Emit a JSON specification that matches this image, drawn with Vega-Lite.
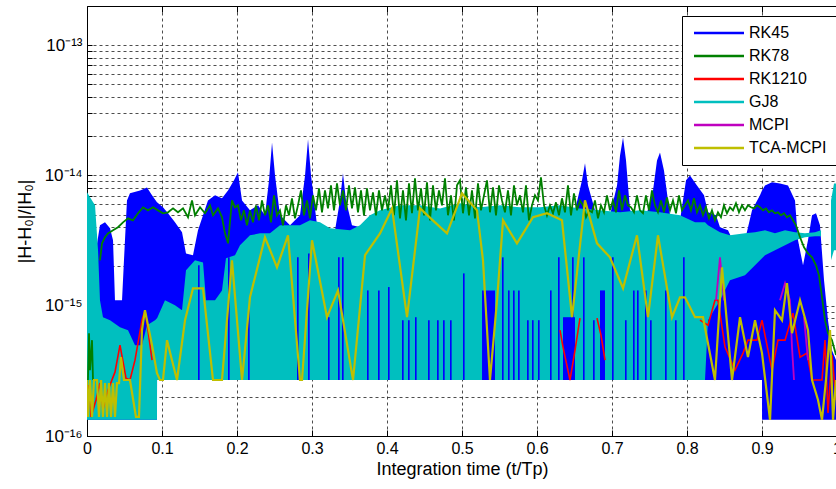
{
"$schema":"https://vega.github.io/schema/vega-lite/v6.json",
"width":750,"height":430,
"autosize":{"type":"none"},
"padding":{"left":87,"top":6,"right":0,"bottom":53},
"background":"white",
"resolve":{"axis":{"x":"independent"}},
"config":{
 "view":{"stroke":"#000","strokeWidth":1},
 "font":"Liberation Sans, Arial, sans-serif",
 "axis":{"labelFont":"Liberation Sans, Arial, sans-serif","titleFont":"Liberation Sans, Arial, sans-serif","labelColor":"#000","titleColor":"#000","titleFontWeight":"normal","domainColor":"#000","tickColor":"#000","gridColor":"#000","gridOpacity":1,"gridDash":[3,3],"gridWidth":0.7,"labelOverlap":false,"labelFlush":false,"labelBound":false}
},
"datasets":{
"rk45":[
{"t":0,"hi":1.06e-15,"lo":1.33e-16},{"t":0.008,"hi":1.06e-15,"lo":1.33e-16},{"t":0.012,"hi":2.66e-15,"lo":1.33e-16},{"t":0.0173,"hi":4.14e-15,"lo":1.33e-16},{"t":0.024,"hi":4.36e-15,"lo":1.33e-16},{"t":0.0307,"hi":3.93e-15,"lo":1.33e-16},{"t":0.0347,"hi":3.18e-15,"lo":1.33e-16},{"t":0.0373,"hi":1.1e-15,"lo":1.33e-16},{"t":0.0467,"hi":1.1e-15,"lo":1.33e-16},{"t":0.0493,"hi":2.23e-15,"lo":1.33e-16},{"t":0.0533,"hi":6.43e-15,"lo":1.33e-16},{"t":0.0573,"hi":7.28e-15,"lo":1.33e-16},{"t":0.0707,"hi":7.67e-15,"lo":1.33e-16},{"t":0.08,"hi":8.09e-15,"lo":1.33e-16},{"t":0.0867,"hi":7.03e-15,"lo":1.33e-16},{"t":0.0933,"hi":6.21e-15,"lo":1.33e-16},
{"t":0.0934,"hi":6.21e-15,"lo":2.69e-16},{"t":0.1013,"hi":5.69e-15,"lo":2.69e-16},{"t":0.108,"hi":5.12e-15,"lo":2.69e-16},{"t":0.1173,"hi":4.36e-15,"lo":2.69e-16},{"t":0.1267,"hi":3.66e-15,"lo":2.69e-16},{"t":0.132,"hi":2.52e-15,"lo":2.69e-16},{"t":0.1413,"hi":2.44e-15,"lo":2.69e-16},{"t":0.148,"hi":3.79e-15,"lo":2.69e-16},{"t":0.1547,"hi":4.94e-15,"lo":2.69e-16},{"t":0.1613,"hi":6.43e-15,"lo":2.69e-16},{"t":0.1707,"hi":7.03e-15,"lo":2.69e-16},{"t":0.18,"hi":6.67e-15,"lo":2.69e-16},{"t":0.188,"hi":7.67e-15,"lo":2.69e-16},{"t":0.196,"hi":9.16e-15,"lo":2.69e-16},{"t":0.2013,"hi":1.055e-14,"lo":2.69e-16},{"t":0.2067,"hi":6.43e-15,"lo":2.69e-16},{"t":0.2173,"hi":5.39e-15,"lo":2.69e-16},{"t":0.228,"hi":5.89e-15,"lo":2.69e-16},{"t":0.2373,"hi":4.94e-15,"lo":2.69e-16},{"t":0.2427,"hi":9.16e-15,"lo":2.69e-16},{"t":0.2467,"hi":1.79e-14,"lo":2.69e-16},{"t":0.2507,"hi":1e-14,"lo":2.69e-16},{"t":0.2573,"hi":4.94e-15,"lo":2.69e-16},{"t":0.2707,"hi":4.14e-15,"lo":2.69e-16},{"t":0.284,"hi":4.94e-15,"lo":2.69e-16},{"t":0.2907,"hi":1e-14,"lo":2.69e-16},{"t":0.2947,"hi":1.89e-14,"lo":2.69e-16},{"t":0.2987,"hi":1e-14,"lo":2.69e-16},{"t":0.3067,"hi":4.14e-15,"lo":2.69e-16},{"t":0.3173,"hi":3.47e-15,"lo":2.69e-16},{"t":0.3307,"hi":3.79e-15,"lo":2.69e-16},{"t":0.3373,"hi":6.43e-15,"lo":2.69e-16},{"t":0.3413,"hi":1.04e-14,"lo":2.69e-16},{"t":0.3453,"hi":6.43e-15,"lo":2.69e-16},{"t":0.3533,"hi":4.14e-15,"lo":2.69e-16},{"t":0.3707,"hi":3.93e-15,"lo":2.69e-16},{"t":0.3907,"hi":3.93e-15,"lo":2.69e-16},{"t":0.404,"hi":4.14e-15,"lo":2.69e-16},{"t":0.4173,"hi":4.52e-15,"lo":2.69e-16},{"t":0.444,"hi":5.21e-15,"lo":2.69e-16},{"t":0.4707,"hi":5.21e-15,"lo":2.69e-16},{"t":0.4973,"hi":5.39e-15,"lo":2.69e-16},{"t":0.524,"hi":5.21e-15,"lo":2.69e-16},{"t":0.5507,"hi":5.21e-15,"lo":2.69e-16},{"t":0.5773,"hi":5.39e-15,"lo":2.69e-16},{"t":0.604,"hi":5.39e-15,"lo":2.69e-16},{"t":0.6307,"hi":5.21e-15,"lo":2.69e-16},{"t":0.6507,"hi":5.39e-15,"lo":2.69e-16},{"t":0.66,"hi":9.16e-15,"lo":2.69e-16},{"t":0.664,"hi":1.24e-14,"lo":2.69e-16},{"t":0.668,"hi":8.38e-15,"lo":2.69e-16},{"t":0.6773,"hi":5.39e-15,"lo":2.69e-16},{"t":0.6973,"hi":4.94e-15,"lo":2.69e-16},{"t":0.7067,"hi":8.38e-15,"lo":2.69e-16},{"t":0.7107,"hi":1.42e-14,"lo":2.69e-16},{"t":0.7147,"hi":1.95e-14,"lo":2.69e-16},{"t":0.7187,"hi":1.3e-14,"lo":2.69e-16},{"t":0.724,"hi":5.39e-15,"lo":2.69e-16},{"t":0.744,"hi":4.52e-15,"lo":2.69e-16},{"t":0.7547,"hi":7.67e-15,"lo":2.69e-16},{"t":0.76,"hi":1.3e-14,"lo":2.69e-16},{"t":0.764,"hi":1.5e-14,"lo":2.69e-16},{"t":0.7693,"hi":1.09e-14,"lo":2.69e-16},{"t":0.7773,"hi":4.94e-15,"lo":2.69e-16},{"t":0.7907,"hi":4.52e-15,"lo":2.69e-16},{"t":0.7987,"hi":9.16e-15,"lo":2.69e-16},{"t":0.804,"hi":1e-14,"lo":2.69e-16},{"t":0.8133,"hi":8.38e-15,"lo":2.69e-16},{"t":0.8227,"hi":7.03e-15,"lo":2.69e-16},{"t":0.828,"hi":5.21e-15,"lo":2.69e-16},{"t":0.8387,"hi":4.94e-15,"lo":2.69e-16},{"t":0.844,"hi":4e-15,"lo":2.69e-16},{"t":0.8547,"hi":3.79e-15,"lo":2.69e-16},{"t":0.864,"hi":2.91e-15,"lo":2.69e-16},{"t":0.8773,"hi":3.18e-15,"lo":2.69e-16},{"t":0.8867,"hi":5.39e-15,"lo":2.69e-16},{"t":0.8973,"hi":7.03e-15,"lo":2.69e-16},{"t":0.9,"hi":7.67e-15,"lo":2.69e-16},
{"t":0.9001,"hi":7.67e-15,"lo":1.33e-16},{"t":0.904,"hi":8.38e-15,"lo":1.33e-16},{"t":0.9133,"hi":8.84e-15,"lo":1.33e-16},{"t":0.924,"hi":8.68e-15,"lo":1.33e-16},{"t":0.9347,"hi":8.38e-15,"lo":1.33e-16},{"t":0.944,"hi":6.43e-15,"lo":1.33e-16},{"t":0.948,"hi":3.18e-15,"lo":1.33e-16},{"t":0.9547,"hi":2.04e-15,"lo":1.33e-16},{"t":0.9613,"hi":3.18e-15,"lo":1.33e-16},{"t":0.9667,"hi":4.94e-15,"lo":1.33e-16},{"t":0.972,"hi":5.12e-15,"lo":1.33e-16},{"t":0.9773,"hi":4.14e-15,"lo":1.33e-16},{"t":0.9827,"hi":1.57e-15,"lo":1.33e-16},{"t":0.988,"hi":7.74e-16,"lo":1.33e-16},{"t":0.9933,"hi":4.56e-16,"lo":1.33e-16},{"t":0.9987,"hi":3.82e-16,"lo":1.33e-16},{"t":1,"hi":3.82e-16,"lo":1.33e-16}
],
"gj8":[
{"t":0,"hi":7.41e-15,"lo":1.33e-16,"g":1},{"t":0.0067,"hi":6.43e-15,"lo":1.33e-16,"g":1},{"t":0.0107,"hi":5.89e-15,"lo":1.33e-16,"g":1},{"t":0.0147,"hi":2.66e-15,"lo":1.33e-16,"g":1},{"t":0.0173,"hi":1.1e-15,"lo":1.33e-16,"g":1},{"t":0.0213,"hi":8.16e-16,"lo":1.33e-16,"g":1},{"t":0.0307,"hi":7.74e-16,"lo":1.33e-16,"g":1},{"t":0.044,"hi":6.84e-16,"lo":1.33e-16,"g":1},{"t":0.0547,"hi":6.49e-16,"lo":1.33e-16,"g":1},{"t":0.064,"hi":4.98e-16,"lo":1.33e-16,"g":1},{"t":0.0733,"hi":4.98e-16,"lo":1.33e-16,"g":1},{"t":0.08,"hi":7.09e-16,"lo":1.33e-16,"g":1},{"t":0.0907,"hi":7.74e-16,"lo":1.33e-16,"g":1},{"t":0.0933,"hi":8.02e-16,"lo":1.33e-16,"g":1},
{"t":0.0934,"hi":8.02e-16,"lo":2.69e-16,"g":1},{"t":0.104,"hi":1.1e-15,"lo":2.69e-16,"g":1},{"t":0.1173,"hi":1.01e-15,"lo":2.69e-16,"g":1},{"t":0.1267,"hi":9.24e-16,"lo":2.69e-16,"g":1},{"t":0.132,"hi":1.87e-15,"lo":2.69e-16,"g":1},{"t":0.144,"hi":2.23e-15,"lo":2.69e-16,"g":1},{"t":0.1547,"hi":2.15e-15,"lo":2.69e-16,"g":1},{"t":0.1587,"hi":1.1e-15,"lo":2.69e-16,"g":1},{"t":0.1707,"hi":1.1e-15,"lo":2.69e-16,"g":1},{"t":0.18,"hi":1.31e-15,"lo":2.69e-16,"g":1},{"t":0.1853,"hi":2.31e-15,"lo":2.69e-16,"g":1},{"t":0.1973,"hi":2.44e-15,"lo":2.69e-16,"g":1},{"t":0.204,"hi":2.91e-15,"lo":2.69e-16,"g":1},{"t":0.2173,"hi":3.47e-15,"lo":2.69e-16,"g":1},{"t":0.2307,"hi":3.59e-15,"lo":2.69e-16,"g":1},{"t":0.244,"hi":3.59e-15,"lo":2.69e-16,"g":1},{"t":0.2573,"hi":4.14e-15,"lo":2.69e-16,"g":1},{"t":0.284,"hi":4.14e-15,"lo":2.69e-16,"g":1},{"t":0.2973,"hi":4.52e-15,"lo":2.69e-16,"g":1},{"t":0.3107,"hi":4.36e-15,"lo":2.69e-16,"g":1},{"t":0.324,"hi":3.93e-15,"lo":2.69e-16,"g":1},{"t":0.3507,"hi":3.79e-15,"lo":2.69e-16,"g":1},{"t":0.364,"hi":4.14e-15,"lo":2.69e-16,"g":1},{"t":0.3773,"hi":4.94e-15,"lo":2.69e-16,"g":1},{"t":0.3907,"hi":5.39e-15,"lo":2.69e-16,"g":1},{"t":0.4173,"hi":5.89e-15,"lo":2.69e-16,"g":1},{"t":0.444,"hi":5.89e-15,"lo":2.69e-16,"g":1},{"t":0.4707,"hi":5.58e-15,"lo":2.69e-16,"g":1},{"t":0.4973,"hi":6.1e-15,"lo":2.69e-16,"g":1},{"t":0.524,"hi":5.69e-15,"lo":2.69e-16,"g":1},{"t":0.5507,"hi":5.89e-15,"lo":2.69e-16,"g":1},{"t":0.5773,"hi":5.69e-15,"lo":2.69e-16,"g":1},{"t":0.604,"hi":5.69e-15,"lo":2.69e-16,"g":1},{"t":0.6307,"hi":5.89e-15,"lo":2.69e-16,"g":1},{"t":0.6573,"hi":5.58e-15,"lo":2.69e-16,"g":1},{"t":0.684,"hi":5.39e-15,"lo":2.69e-16,"g":1},{"t":0.7107,"hi":5.21e-15,"lo":2.69e-16,"g":1},{"t":0.7373,"hi":5.39e-15,"lo":2.69e-16,"g":1},{"t":0.764,"hi":5.21e-15,"lo":2.69e-16,"g":1},{"t":0.7907,"hi":4.94e-15,"lo":2.69e-16,"g":1},{"t":0.8107,"hi":4.36e-15,"lo":2.69e-16,"g":1},{"t":0.824,"hi":4.36e-15,"lo":2.69e-16,"g":1},{"t":0.828,"hi":4.14e-15,"lo":7.74e-16,"g":1},{"t":0.844,"hi":3.66e-15,"lo":1.1e-15,"g":1},{"t":0.8573,"hi":3.47e-15,"lo":1.57e-15,"g":1},{"t":0.8773,"hi":3.59e-15,"lo":1.71e-15,"g":1},{"t":0.8907,"hi":3.66e-15,"lo":2.04e-15,"g":1},{"t":0.904,"hi":3.79e-15,"lo":2.44e-15,"g":1},{"t":0.9173,"hi":3.59e-15,"lo":2.66e-15,"g":1},{"t":0.9307,"hi":3.79e-15,"lo":2.91e-15,"g":1},{"t":0.944,"hi":3.66e-15,"lo":3.18e-15,"g":1},{"t":0.9573,"hi":3.59e-15,"lo":3.35e-15,"g":1},{"t":0.9707,"hi":3.66e-15,"lo":3.41e-15,"g":1},{"t":0.9787,"hi":3.79e-15,"lo":3.41e-15,"g":1},
{"t":0.992,"hi":6.43e-15,"lo":2.23e-15,"g":2},{"t":0.996,"hi":8.68e-15,"lo":2.66e-15,"g":2},{"t":1,"hi":8.68e-15,"lo":2.66e-15,"g":2}
],
"stripes":[
{"a":0.148,"b":0.1502,"v":2.04e-15},{"a":0.188,"b":0.1902,"v":2.35e-15},{"a":0.2147,"b":0.2169,"v":9.74e-16},{"a":0.28,"b":0.2822,"v":2.35e-15},{"a":0.2947,"b":0.2969,"v":2.52e-15},{"a":0.3213,"b":0.3235,"v":8.16e-16},{"a":0.3347,"b":0.3369,"v":2.35e-15},{"a":0.34,"b":0.3422,"v":2.35e-15},{"a":0.3733,"b":0.3755,"v":1.31e-15},{"a":0.388,"b":0.3902,"v":1.31e-15},{"a":0.4013,"b":0.4035,"v":1.39e-15},{"a":0.42,"b":0.4222,"v":7.74e-16},{"a":0.428,"b":0.4302,"v":7.74e-16},{"a":0.4373,"b":0.4395,"v":8.16e-16},{"a":0.4547,"b":0.4569,"v":7.74e-16},{"a":0.4667,"b":0.4689,"v":7.74e-16},{"a":0.4747,"b":0.4769,"v":7.74e-16},{"a":0.484,"b":0.4862,"v":7.74e-16},{"a":0.5013,"b":0.5035,"v":1.77e-15},{"a":0.5267,"b":0.544,"v":1.31e-15},{"a":0.5533,"b":0.5555,"v":2.35e-15},{"a":0.5613,"b":0.5635,"v":1.31e-15},{"a":0.568,"b":0.5702,"v":1.31e-15},{"a":0.5747,"b":0.5769,"v":1.31e-15},{"a":0.5867,"b":0.5889,"v":7.74e-16},{"a":0.5933,"b":0.5955,"v":7.74e-16},{"a":0.6013,"b":0.6035,"v":7.74e-16},{"a":0.6173,"b":0.6195,"v":1.31e-15},{"a":0.628,"b":0.6302,"v":2.35e-15},{"a":0.6347,"b":0.6507,"v":8.16e-16},{"a":0.6467,"b":0.6489,"v":2.35e-15},{"a":0.6613,"b":0.6635,"v":2.35e-15},{"a":0.6747,"b":0.6769,"v":7.74e-16},{"a":0.684,"b":0.6907,"v":1.31e-15},{"a":0.7,"b":0.7022,"v":2.35e-15},{"a":0.7173,"b":0.7195,"v":7.74e-16},{"a":0.728,"b":0.7302,"v":1.31e-15},{"a":0.7333,"b":0.7355,"v":1.31e-15},{"a":0.744,"b":0.7462,"v":1.31e-15},{"a":0.7507,"b":0.7529,"v":7.74e-16},{"a":0.7707,"b":0.7729,"v":1.31e-15},{"a":0.784,"b":0.7862,"v":7.74e-16},{"a":0.7947,"b":0.7969,"v":2.35e-15}
],
"rk1210":[
{"t":0,"v":1.4e-16,"g":1},{"t":0.0027,"v":2.46e-16,"g":1},{"t":0.0053,"v":1.4e-16,"g":1},{"t":0.012,"v":1.89e-16,"g":1},{"t":0.0173,"v":2.55e-16,"g":1},{"t":0.0213,"v":1.58e-16,"g":1},{"t":0.028,"v":2.25e-16,"g":1},{"t":0.0373,"v":3.09e-16,"g":1},{"t":0.044,"v":4.98e-16,"g":1},{"t":0.052,"v":2.78e-16,"g":1},{"t":0.0573,"v":2.69e-16,"g":1},{"t":0.064,"v":3.82e-16,"g":1},{"t":0.0733,"v":7.74e-16,"g":1},{"t":0.0773,"v":9.24e-16,"g":1},{"t":0.0813,"v":6.49e-16,"g":1},{"t":0.0867,"v":3.82e-16,"g":1},
{"t":0.6307,"v":6.49e-16,"g":2},{"t":0.6347,"v":4.81e-16,"g":2},{"t":0.644,"v":2.69e-16,"g":2},{"t":0.6507,"v":4.56e-16,"g":2},{"t":0.6573,"v":8.02e-16,"g":2},
{"t":0.68,"v":8.02e-16,"g":3},{"t":0.6853,"v":5.94e-16,"g":3},{"t":0.6907,"v":3.82e-16,"g":3},
{"t":0.8173,"v":7.74e-16,"g":4},{"t":0.828,"v":7.09e-16,"g":4},{"t":0.8373,"v":1.1e-15,"g":4},{"t":0.8413,"v":1.1e-15,"g":4},{"t":0.8507,"v":4.81e-16,"g":4},{"t":0.864,"v":3.2e-16,"g":4},{"t":0.8747,"v":4.33e-16,"g":4},{"t":0.8813,"v":5.44e-16,"g":4},{"t":0.8933,"v":5.44e-16,"g":4},{"t":0.9,"v":7.74e-16,"g":4},{"t":0.9133,"v":3.2e-16,"g":4},{"t":0.9213,"v":5.44e-16,"g":4},{"t":0.9307,"v":5.44e-16,"g":4},{"t":0.9413,"v":8.76e-16,"g":4},{"t":0.9507,"v":4.03e-16,"g":4},{"t":0.96,"v":4.33e-16,"g":4},{"t":0.9667,"v":2.69e-16,"g":4},{"t":0.98,"v":2.69e-16,"g":4},{"t":0.984,"v":5.44e-16,"g":4},{"t":0.988,"v":1.5e-16,"g":4},{"t":0.9933,"v":4.18e-16,"g":4},{"t":0.9987,"v":1.89e-16,"g":4}
],
"rk78":[
{"t":0.0013,"v":2.69e-16,"g":1},{"t":0.0027,"v":6.15e-16,"g":1},{"t":0.004,"v":3.2e-16,"g":1},{"t":0.0067,"v":5.44e-16,"g":1},{"t":0.008,"v":2.69e-16,"g":1},
{"t":0.0173,"v":2.23e-15,"g":2},{"t":0.02,"v":3.01e-15,"g":2},{"t":0.024,"v":3.35e-15,"g":2},{"t":0.028,"v":3.59e-15,"g":2},{"t":0.0347,"v":3.79e-15,"g":2},{"t":0.0413,"v":4e-15,"g":2},{"t":0.048,"v":4.36e-15,"g":2},{"t":0.0547,"v":4.68e-15,"g":2},{"t":0.0613,"v":4.52e-15,"g":2},{"t":0.068,"v":5.12e-15,"g":2},{"t":0.0747,"v":5.69e-15,"g":2},{"t":0.0813,"v":5.39e-15,"g":2},{"t":0.088,"v":5.69e-15,"g":2},{"t":0.0947,"v":5.39e-15,"g":2},{"t":0.1013,"v":5.12e-15,"g":2},{"t":0.108,"v":5.21e-15,"g":2},{"t":0.1147,"v":5.58e-15,"g":2},{"t":0.1213,"v":5.21e-15,"g":2},{"t":0.128,"v":5.58e-15,"g":2},{"t":0.1347,"v":4.77e-15,"g":2},{"t":0.14,"v":6.43e-15,"g":2},{"t":0.144,"v":4.94e-15,"g":2},{"t":0.1507,"v":5.69e-15,"g":2},{"t":0.1573,"v":5.12e-15,"g":2},{"t":0.164,"v":5.89e-15,"g":2},{"t":0.168,"v":4.94e-15,"g":2},{"t":0.1747,"v":5.58e-15,"g":2},{"t":0.18,"v":4.77e-15,"g":2},{"t":0.184,"v":3.59e-15,"g":2},{"t":0.188,"v":3.01e-15,"g":2},{"t":0.1933,"v":6.43e-15,"g":2},{"t":0.1973,"v":5.69e-15,"g":2},{"t":0.2013,"v":5.89e-15,"g":2},{"t":0.2053,"v":4.52e-15,"g":2},{"t":0.2093,"v":5.39e-15,"g":2},{"t":0.2133,"v":4.14e-15,"g":2},{"t":0.2173,"v":5.39e-15,"g":2},{"t":0.2213,"v":4.36e-15,"g":2},{"t":0.2253,"v":5.89e-15,"g":2},{"t":0.2293,"v":4.52e-15,"g":2},{"t":0.2333,"v":6.43e-15,"g":2},{"t":0.2373,"v":4.94e-15,"g":2},{"t":0.2413,"v":5.89e-15,"g":2},{"t":0.2453,"v":4.36e-15,"g":2},{"t":0.2493,"v":7.03e-15,"g":2},{"t":0.2533,"v":4.94e-15,"g":2},{"t":0.2573,"v":5.39e-15,"g":2},{"t":0.2613,"v":4.14e-15,"g":2},{"t":0.2653,"v":5.89e-15,"g":2},{"t":0.2693,"v":4.94e-15,"g":2},{"t":0.2733,"v":6.67e-15,"g":2},{"t":0.2773,"v":4.68e-15,"g":2},{"t":0.2813,"v":5.89e-15,"g":2},{"t":0.2853,"v":7.67e-15,"g":2},{"t":0.2893,"v":4.94e-15,"g":2},{"t":0.2933,"v":6.43e-15,"g":2},{"t":0.2973,"v":4.68e-15,"g":2},{"t":0.3013,"v":7.03e-15,"g":2},{"t":0.3053,"v":5.39e-15,"g":2},{"t":0.3093,"v":7.94e-15,"g":2},{"t":0.3133,"v":5.21e-15,"g":2},{"t":0.3173,"v":7.67e-15,"g":2},{"t":0.3213,"v":5.58e-15,"g":2},{"t":0.3253,"v":8.38e-15,"g":2},{"t":0.3293,"v":5.39e-15,"g":2},{"t":0.3333,"v":8.68e-15,"g":2},{"t":0.3373,"v":5.89e-15,"g":2},{"t":0.3413,"v":7.67e-15,"g":2},{"t":0.3453,"v":5.39e-15,"g":2},{"t":0.3493,"v":8.38e-15,"g":2},{"t":0.3533,"v":5.58e-15,"g":2},{"t":0.3573,"v":8.09e-15,"g":2},{"t":0.3613,"v":5.21e-15,"g":2},{"t":0.3653,"v":7.67e-15,"g":2},{"t":0.3693,"v":4.94e-15,"g":2},{"t":0.3733,"v":7.94e-15,"g":2},{"t":0.3773,"v":5.39e-15,"g":2},{"t":0.3813,"v":7.41e-15,"g":2},{"t":0.3853,"v":4.94e-15,"g":2},{"t":0.3893,"v":7.67e-15,"g":2},{"t":0.3933,"v":5.39e-15,"g":2},{"t":0.3973,"v":7.03e-15,"g":2},{"t":0.4013,"v":5.39e-15,"g":2},{"t":0.4053,"v":8.38e-15,"g":2},{"t":0.4093,"v":4.94e-15,"g":2},{"t":0.4133,"v":9.16e-15,"g":2},{"t":0.4173,"v":4.68e-15,"g":2},{"t":0.4213,"v":7.67e-15,"g":2},{"t":0.4253,"v":4.52e-15,"g":2},{"t":0.4293,"v":8.68e-15,"g":2},{"t":0.4333,"v":5.12e-15,"g":2},{"t":0.4373,"v":9.48e-15,"g":2},{"t":0.4413,"v":5.39e-15,"g":2},{"t":0.4453,"v":7.94e-15,"g":2},{"t":0.4493,"v":4.94e-15,"g":2},{"t":0.4533,"v":8.84e-15,"g":2},{"t":0.4573,"v":4.52e-15,"g":2},{"t":0.4613,"v":8.38e-15,"g":2},{"t":0.4653,"v":5.39e-15,"g":2},{"t":0.4693,"v":7.67e-15,"g":2},{"t":0.4733,"v":5.89e-15,"g":2},{"t":0.4773,"v":9.48e-15,"g":2},{"t":0.4813,"v":4.94e-15,"g":2},{"t":0.4853,"v":7.03e-15,"g":2},{"t":0.4893,"v":4.52e-15,"g":2},{"t":0.4933,"v":8.38e-15,"g":2},{"t":0.4973,"v":9.16e-15,"g":2},{"t":0.5013,"v":5.12e-15,"g":2},{"t":0.5053,"v":8.09e-15,"g":2},{"t":0.5093,"v":4.94e-15,"g":2},{"t":0.5133,"v":7.67e-15,"g":2},{"t":0.5173,"v":4.68e-15,"g":2},{"t":0.5213,"v":8.68e-15,"g":2},{"t":0.5253,"v":5.39e-15,"g":2},{"t":0.5293,"v":7.03e-15,"g":2},{"t":0.5333,"v":9.16e-15,"g":2},{"t":0.5373,"v":5.21e-15,"g":2},{"t":0.5413,"v":8.09e-15,"g":2},{"t":0.5453,"v":4.94e-15,"g":2},{"t":0.5493,"v":8.38e-15,"g":2},{"t":0.5533,"v":6.43e-15,"g":2},{"t":0.5573,"v":5.21e-15,"g":2},{"t":0.5613,"v":7.67e-15,"g":2},{"t":0.5653,"v":4.94e-15,"g":2},{"t":0.5693,"v":8.38e-15,"g":2},{"t":0.5733,"v":5.89e-15,"g":2},{"t":0.5773,"v":7.03e-15,"g":2},{"t":0.5813,"v":5.21e-15,"g":2},{"t":0.5853,"v":8.38e-15,"g":2},{"t":0.5893,"v":4.52e-15,"g":2},{"t":0.5933,"v":5.89e-15,"g":2},{"t":0.5973,"v":7.03e-15,"g":2},{"t":0.6013,"v":6.43e-15,"g":2},{"t":0.6053,"v":9.66e-15,"g":2},{"t":0.6093,"v":5.89e-15,"g":2},{"t":0.6133,"v":4.94e-15,"g":2},{"t":0.6173,"v":5.89e-15,"g":2},{"t":0.6213,"v":5.12e-15,"g":2},{"t":0.6253,"v":6.21e-15,"g":2},{"t":0.6293,"v":4.94e-15,"g":2},{"t":0.6333,"v":6.67e-15,"g":2},{"t":0.6373,"v":5.21e-15,"g":2},{"t":0.6413,"v":8.38e-15,"g":2},{"t":0.6453,"v":4.94e-15,"g":2},{"t":0.6493,"v":7.28e-15,"g":2},{"t":0.6533,"v":5.39e-15,"g":2},{"t":0.6573,"v":6.43e-15,"g":2},{"t":0.6613,"v":5.89e-15,"g":2},{"t":0.6653,"v":4.77e-15,"g":2},{"t":0.6693,"v":5.39e-15,"g":2},{"t":0.6733,"v":5.21e-15,"g":2},{"t":0.6773,"v":6.43e-15,"g":2},{"t":0.6813,"v":4.68e-15,"g":2},{"t":0.6853,"v":5.89e-15,"g":2},{"t":0.6893,"v":5.21e-15,"g":2},{"t":0.6933,"v":7.03e-15,"g":2},{"t":0.6973,"v":5.39e-15,"g":2},{"t":0.7013,"v":6.43e-15,"g":2},{"t":0.7053,"v":5.21e-15,"g":2},{"t":0.7093,"v":7.67e-15,"g":2},{"t":0.7133,"v":5.39e-15,"g":2},{"t":0.7173,"v":7.03e-15,"g":2},{"t":0.7213,"v":5.89e-15,"g":2},{"t":0.7253,"v":5.69e-15,"g":2},{"t":0.7293,"v":5.21e-15,"g":2},{"t":0.7333,"v":7.03e-15,"g":2},{"t":0.7373,"v":5.39e-15,"g":2},{"t":0.7413,"v":5.12e-15,"g":2},{"t":0.7453,"v":7.03e-15,"g":2},{"t":0.7493,"v":5.39e-15,"g":2},{"t":0.7533,"v":7.67e-15,"g":2},{"t":0.7573,"v":5.89e-15,"g":2},{"t":0.7613,"v":5.21e-15,"g":2},{"t":0.7653,"v":6.43e-15,"g":2},{"t":0.7693,"v":5.21e-15,"g":2},{"t":0.7733,"v":6.78e-15,"g":2},{"t":0.7773,"v":5.39e-15,"g":2},{"t":0.7813,"v":6.43e-15,"g":2},{"t":0.7853,"v":5.12e-15,"g":2},{"t":0.7893,"v":7.03e-15,"g":2},{"t":0.7933,"v":5.39e-15,"g":2},{"t":0.7973,"v":5.89e-15,"g":2},{"t":0.8013,"v":6.43e-15,"g":2},{"t":0.8053,"v":5.39e-15,"g":2},{"t":0.8093,"v":6.67e-15,"g":2},{"t":0.8133,"v":5.21e-15,"g":2},{"t":0.8173,"v":5.89e-15,"g":2},{"t":0.8213,"v":4.94e-15,"g":2},{"t":0.8253,"v":5.69e-15,"g":2},{"t":0.8293,"v":4.68e-15,"g":2},{"t":0.8333,"v":5.39e-15,"g":2},{"t":0.8373,"v":4.52e-15,"g":2},{"t":0.8413,"v":5.21e-15,"g":2},{"t":0.8453,"v":4.77e-15,"g":2},{"t":0.8493,"v":5.89e-15,"g":2},{"t":0.8533,"v":5.12e-15,"g":2},{"t":0.8573,"v":5.69e-15,"g":2},{"t":0.8613,"v":5.39e-15,"g":2},{"t":0.8653,"v":6.1e-15,"g":2},{"t":0.8693,"v":5.21e-15,"g":2},{"t":0.8733,"v":5.89e-15,"g":2},{"t":0.8773,"v":5.39e-15,"g":2},{"t":0.8813,"v":5.89e-15,"g":2},{"t":0.8853,"v":5.69e-15,"g":2},{"t":0.8893,"v":5.58e-15,"g":2},{"t":0.8933,"v":5.89e-15,"g":2},{"t":0.8973,"v":5.69e-15,"g":2},{"t":0.9013,"v":5.39e-15,"g":2},{"t":0.9053,"v":5.58e-15,"g":2},{"t":0.9093,"v":5.21e-15,"g":2},{"t":0.9133,"v":5.39e-15,"g":2},{"t":0.9173,"v":5.12e-15,"g":2},{"t":0.9213,"v":5.21e-15,"g":2},{"t":0.9253,"v":4.94e-15,"g":2},{"t":0.9293,"v":5.12e-15,"g":2},{"t":0.9333,"v":4.77e-15,"g":2},{"t":0.9373,"v":4.94e-15,"g":2},{"t":0.9413,"v":4.52e-15,"g":2},{"t":0.9453,"v":4.14e-15,"g":2},{"t":0.9507,"v":3.35e-15,"g":2},{"t":0.956,"v":2.81e-15,"g":2},{"t":0.9613,"v":2.52e-15,"g":2},{"t":0.9667,"v":2.35e-15,"g":2},{"t":0.972,"v":2.04e-15,"g":2},{"t":0.976,"v":1.71e-15,"g":2},{"t":0.98,"v":1.16e-15,"g":2},{"t":0.984,"v":7.74e-16,"g":2},{"t":0.988,"v":6.15e-16,"g":2},{"t":0.9933,"v":5.44e-16,"g":2},{"t":0.9987,"v":4.18e-16,"g":2}
],
"mcpi":[
{"t":0.8387,"v":1.1e-15,"g":1},{"t":0.844,"v":2.35e-15,"g":1},{"t":0.8493,"v":1.1e-15,"g":1},
{"t":0.924,"v":1.1e-15,"g":2},{"t":0.9307,"v":1.49e-15,"g":2},{"t":0.9373,"v":1.1e-15,"g":2},{"t":0.94,"v":4.81e-16,"g":2},{"t":0.9427,"v":2.69e-16,"g":2},
{"t":0.956,"v":8.16e-16,"g":3},{"t":0.9613,"v":3.82e-16,"g":3}
],
"tca":[
{"t":0,"v":2.69e-16},{"t":0.0013,"v":1.4e-16},{"t":0.004,"v":2.69e-16},{"t":0.0067,"v":1.4e-16},{"t":0.0093,"v":2.69e-16},{"t":0.0133,"v":2.69e-16},{"t":0.016,"v":1.4e-16},{"t":0.0187,"v":2.69e-16},{"t":0.0213,"v":1.4e-16},{"t":0.024,"v":2.55e-16},{"t":0.0267,"v":1.4e-16},{"t":0.0293,"v":2.55e-16},{"t":0.032,"v":1.4e-16},{"t":0.0347,"v":2.55e-16},{"t":0.0373,"v":1.4e-16},{"t":0.04,"v":2.55e-16},{"t":0.0427,"v":2.55e-16},{"t":0.0453,"v":4.03e-16},{"t":0.0493,"v":2.69e-16},{"t":0.0573,"v":2.69e-16},{"t":0.0653,"v":1.4e-16},{"t":0.0693,"v":1.4e-16},{"t":0.0733,"v":6.49e-16},{"t":0.0773,"v":9.24e-16},{"t":0.0813,"v":7.09e-16},{"t":0.0867,"v":4.98e-16},{"t":0.0933,"v":3.04e-16},{"t":0.0973,"v":2.69e-16},{"t":0.1013,"v":2.69e-16},{"t":0.1067,"v":5.44e-16},{"t":0.1133,"v":3.82e-16},{"t":0.12,"v":2.69e-16},{"t":0.1307,"v":7.74e-16},{"t":0.1413,"v":1.36e-15},{"t":0.1547,"v":1.36e-15},{"t":0.168,"v":2.69e-16},{"t":0.18,"v":2.69e-16},{"t":0.1933,"v":2.23e-15},{"t":0.2067,"v":2.69e-16},{"t":0.2173,"v":1.16e-15},{"t":0.2373,"v":3.35e-15},{"t":0.2533,"v":1.97e-15},{"t":0.268,"v":3.47e-15},{"t":0.284,"v":2.69e-16},{"t":0.2867,"v":2.69e-16},{"t":0.3,"v":3.18e-15},{"t":0.32,"v":8.16e-16},{"t":0.3347,"v":1.31e-15},{"t":0.3547,"v":2.69e-16},{"t":0.3707,"v":2.44e-15},{"t":0.3907,"v":3.59e-15},{"t":0.4067,"v":5.58e-15},{"t":0.4267,"v":8.16e-16},{"t":0.444,"v":5.58e-15},{"t":0.464,"v":4.36e-15},{"t":0.48,"v":3.59e-15},{"t":0.5,"v":7.28e-15},{"t":0.52,"v":5.39e-15},{"t":0.528,"v":2.23e-15},{"t":0.5373,"v":2.69e-16},{"t":0.5467,"v":1.1e-15},{"t":0.5547,"v":4.52e-15},{"t":0.5733,"v":3.01e-15},{"t":0.5947,"v":4.77e-15},{"t":0.6133,"v":5.12e-15},{"t":0.6333,"v":4.52e-15},{"t":0.6467,"v":8.16e-16},{"t":0.664,"v":6.43e-15},{"t":0.68,"v":3.01e-15},{"t":0.6973,"v":2.35e-15},{"t":0.7147,"v":1.36e-15},{"t":0.7333,"v":3.47e-15},{"t":0.748,"v":8.16e-16},{"t":0.7613,"v":3.47e-15},{"t":0.78,"v":8.16e-16},{"t":0.7907,"v":1.16e-15},{"t":0.7973,"v":1.16e-15},{"t":0.8107,"v":8.16e-16},{"t":0.8213,"v":8.16e-16},{"t":0.8373,"v":2.69e-16},{"t":0.8467,"v":1.97e-15},{"t":0.86,"v":2.69e-16},{"t":0.8707,"v":8.16e-16},{"t":0.8813,"v":4.03e-16},{"t":0.8907,"v":7.74e-16},{"t":0.9,"v":4.33e-16},{"t":0.9107,"v":1.33e-16},{"t":0.9173,"v":9.24e-16},{"t":0.9267,"v":7.74e-16},{"t":0.9333,"v":1.49e-15},{"t":0.94,"v":6.15e-16},{"t":0.9507,"v":1.1e-15},{"t":0.9573,"v":8.02e-16},{"t":0.9613,"v":6.49e-16},{"t":0.9667,"v":2.69e-16},{"t":0.9747,"v":1.89e-16},{"t":0.98,"v":1.33e-16},{"t":0.9853,"v":2.69e-16},{"t":0.9907,"v":6.49e-16},{"t":0.9947,"v":1.33e-16},{"t":0.9987,"v":2.69e-16}
]
},
"layer":[
{"data":{"name":"rk45"},"mark":{"type":"area","color":"#0000FF","clip":true},
 "encoding":{
  "x":{"field":"t","type":"quantitative","scale":{"domain":[0,1],"nice":false,"zero":false},
   "axis":{"values":[0,0.1,0.2,0.3,0.4,0.5,0.6,0.7,0.8,0.9,1],"format":".1~f","title":"Integration time (t/Tp)","grid":true,"tickSize":-6,"labelPadding":10,"labelFontSize":16,"titleFontSize":18,"titlePadding":4}},
  "y":{"field":"hi","type":"quantitative","scale":{"type":"log","domain":[1e-16,1.995e-13],"nice":false},
   "axis":{"values":[1e-16,2e-16,3e-16,4e-16,5e-16,6e-16,7e-16,8e-16,9e-16,1e-15,2e-15,3e-15,4e-15,5e-15,6e-15,7e-15,8e-15,9e-15,1e-14,2e-14,3e-14,4e-14,5e-14,6e-14,7e-14,8e-14,9e-14,1e-13],
    "labelExpr":"datum.value == 1e-13 ? '10⁻¹³' : datum.value == 1e-14 ? '10⁻¹⁴' : datum.value == 1e-15 ? '10⁻¹⁵' : datum.value == 1e-16 ? '10⁻¹⁶' : ''",
    "title":"|H-H₀|/|H₀|","grid":true,"tickSize":-5,"labelPadding":10,"labelFontSize":17,"titleFontSize":18,"titlePadding":10}},
  "y2":{"field":"lo"}}},
{"data":{"name":"gj8"},"mark":{"type":"area","color":"#00BFBF","clip":true},
 "encoding":{"x":{"field":"t","type":"quantitative","axis":{"orient":"top","values":[0.1,0.2,0.3,0.4,0.5,0.6,0.7,0.8,0.9],"labels":false,"title":null,"grid":false,"tickSize":-6,"domain":false}},"y":{"field":"hi","type":"quantitative"},"y2":{"field":"lo"},"detail":{"field":"g"}}},
{"data":{"name":"stripes"},"mark":{"type":"rect","color":"#0000FF","clip":true},
 "encoding":{"x":{"field":"a","type":"quantitative","axis":null},"x2":{"field":"b"},"y":{"field":"v","type":"quantitative"},"y2":{"datum":2.69e-16}}},
{"data":{"name":"rk1210"},"mark":{"type":"line","color":"#FF0000","strokeWidth":1.6,"clip":true},
 "encoding":{"x":{"field":"t","type":"quantitative","axis":null},"y":{"field":"v","type":"quantitative"},"detail":{"field":"g"}}},
{"data":{"name":"rk78"},"mark":{"type":"line","strokeWidth":1.8,"clip":true},
 "encoding":{"x":{"field":"t","type":"quantitative","axis":null},"y":{"field":"v","type":"quantitative"},"detail":{"field":"g"},
  "color":{"datum":"RK78","type":"nominal","scale":{"domain":["RK45","RK78","RK1210","GJ8","MCPI","TCA-MCPI"],"range":["#0000FF","#008000","#FF0000","#00BFBF","#BF00BF","#BFBF00"]},
   "legend":{"title":null,"orient":"none","legendX":595,"legendY":10,"symbolType":"M-5,0H5","symbolSize":100,"symbolOffset":20,"symbolStrokeWidth":2.5,"labelOffset":22,"labelFontSize":16,"labelColor":"#000","fillColor":"#FFFFFF","strokeColor":"#000","padding":9,"rowPadding":7,"labelLimit":200}}}},
{"data":{"name":"mcpi"},"mark":{"type":"line","color":"#BF00BF","strokeWidth":1.8,"clip":true},
 "encoding":{"x":{"field":"t","type":"quantitative","axis":null},"y":{"field":"v","type":"quantitative"},"detail":{"field":"g"}}},
{"data":{"name":"tca"},"mark":{"type":"line","color":"#BFBF00","strokeWidth":2.2,"clip":true},
 "encoding":{"x":{"field":"t","type":"quantitative","axis":null},"y":{"field":"v","type":"quantitative"}}}
]
}
